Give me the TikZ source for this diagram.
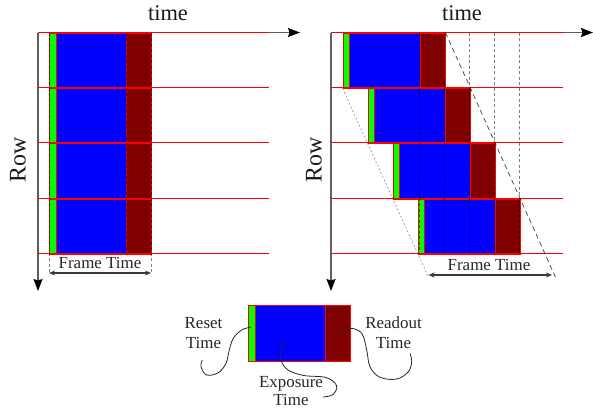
\documentclass[tikz,border=0pt]{standalone}
\usepackage{fontspec}
\setmainfont{Liberation Serif}
\usetikzlibrary{arrows.meta}

\definecolor{resetgreen}{RGB}{0,255,0}
\definecolor{exposureblue}{RGB}{0,0,255}
\definecolor{readoutred}{RGB}{128,0,0}
\definecolor{rowred}{RGB}{255,0,0}
\definecolor{axisgray}{RGB}{95,95,95}

\tikzset{
  partbase/.style={draw=rowred, line width=0.9bp, inner sep=0pt, anchor=north west},
  resetpart/.style={partbase, fill=resetgreen, minimum width=6.5bp},
  exposurepart/.style={partbase, fill=exposureblue, minimum width=70.5bp},
  readoutpart/.style={partbase, fill=readoutred, minimum width=25bp},
  rowline/.style={draw=rowred, line width=1.1bp},
  axisline/.style={draw=axisgray, line width=1.5bp, -{Stealth[length=12bp,width=9bp,inset=1.5bp,black]}},
  guide/.style={draw=black, opacity=0.5, line width=0.7bp, dash pattern=on 3bp off 2.5bp},
  fineguide/.style={draw=black, opacity=0.45, line width=0.6bp, dash pattern=on 2bp off 2bp},
  longguide/.style={draw=black, opacity=0.75, line width=0.7bp, dash pattern=on 5bp off 3.5bp},
  spanarrow/.style={draw=axisgray!60!black, line width=1.1bp, {Stealth[length=6bp,width=5bp]}-{Stealth[length=6bp,width=5bp]}},
  curl/.style={draw=black!85, line width=0.8bp},
  lbl/.style={font=\fontsize{17}{19}\selectfont, align=center, inner sep=0pt, text=black!85},
  axislbl/.style={font=\fontsize{22.5}{24}\selectfont, inner sep=0pt, text=black!90},
  rowlbl/.style={axislbl, rotate=90, font=\fontsize{24}{26}\selectfont},
}

\begin{document}
\begin{tikzpicture}[x=1bp, y=-1bp]
\useasboundingbox (0,0) rectangle (593,412);

% ---------------- global shutter panel ----------------
\coordinate (Lorigin) at (38,32.5);
\coordinate (Ltime) at (300,32.5);
\coordinate (Lrow) at (38,291);
\draw[axisline] (Lorigin) -- (Ltime);
\draw[axisline] (Lorigin) -- (Lrow);

\foreach \t/\h [count=\k] in {32.5/55,87.5/55,142.5/56,198.5/55} {
  \node[resetpart, minimum height=\h bp]    (Lr\k) at (49,\t) {};
  \node[exposurepart, minimum height=\h bp] (Le\k) at (55.5,\t) {};
  \node[readoutpart, minimum height=\h bp]  (Lo\k) at (126,\t) {};
}
\foreach \t in {32.5,87.5,142.5,198.5,253.5}
  \draw[rowline] (38,\t) -- (269,\t);

\coordinate (Lfs) at (49,273);
\coordinate (Lfe) at (151,273);
\draw[guide] (49,32.5) -- (Lfs);
\draw[guide] (126,32.5) -- (126,253.5);
\draw[guide] (151,32.5) -- (Lfe);
\draw[spanarrow] (Lfs) -- (Lfe);
\node[lbl] (Lframe) at (100,263) {Frame Time};

\node[axislbl] (Ltimelbl) at (168,13) {time};
\node[rowlbl] (Lrowlbl) at (18,160) {Row};

% ---------------- rolling shutter panel ----------------
\coordinate (Rorigin) at (331,32.5);
\coordinate (Rtime) at (593,32.5);
\coordinate (Rrow) at (331,291);
\draw[axisline] (Rorigin) -- (Rtime);
\draw[axisline] (Rorigin) -- (Rrow);

\foreach \t/\h [count=\k from 0] in {32.5/55,87.5/55,142.5/56,198.5/55} {
  \node[resetpart, minimum height=\h bp]    (Rr\k) at (342.5+25*\k,\t) {};
  \node[exposurepart, minimum height=\h bp] (Re\k) at (349+25*\k,\t) {};
  \node[readoutpart, minimum height=\h bp]  (Ro\k) at (419.5+25*\k,\t) {};
}
\foreach \t in {32.5,87.5,142.5,198.5,253.5}
  \draw[rowline] (331,\t) -- (563,\t);

\foreach \x in {419.5,444.5,469.5,494.5,519.5}
  \draw[guide] (\x,32.5) -- (\x,253.5);

\coordinate (Rfs) at (428.4,277);
\coordinate (Rfe) at (555.4,277);
\draw[fineguide] (Rr0.south west) -- (Rfs);
\draw[longguide] (Ro0.north east) -- (Rfe);
\draw[spanarrow] (428.5,275) -- (552,275);
\node[lbl] (Rframe) at (489,265) {Frame Time};

\node[axislbl] (Rtimelbl) at (462,13) {time};
\node[rowlbl] (Rrowlbl) at (314,160) {Row};

% ---------------- legend ----------------
\node[resetpart, minimum height=55.5bp]    (Greset) at (248,305) {};
\node[exposurepart, minimum height=55.5bp] (Gexpo)  at (254.5,305) {};
\node[readoutpart, minimum height=55.5bp]  (Gread)  at (325,305) {};

\node[lbl] (Treset) at (203.5,333) {Reset\\[1bp]Time};
\node[lbl] (Texpo)  at (291,391) {Exposure\\Time};
\node[lbl] (Tread)  at (393.5,333) {Readout\\[1bp]Time};

\coordinate (resetpin) at (251,327);
\coordinate (expopin) at (287,340);
\coordinate (readpin) at (338.5,333.5);
\coordinate (resettail) at (202.3,360);
\coordinate (expotail) at (323,397);
\coordinate (readtail) at (410,353.5);

\draw[curl] plot[smooth, tension=0.6] coordinates {
  (resetpin) (241.7,330) (233.3,338.3) (229.3,350) (226,363.3) (218.3,372.7) (206.7,375) (201,366.7) (resettail)};
\draw[curl] plot[smooth, tension=0.6] coordinates {
  (expopin) (281.5,348.5) (281,360) (288,370) (304,375.5) (326,377.5) (336.5,385.5) (333,394.5) (expotail)};
\draw[curl] plot[smooth, tension=0.6] coordinates {
  (readpin) (350,328.3) (361.7,333.3) (366.7,350) (370,366.7) (380,377.3) (396.7,379) (408.3,371.7) (411.7,361.7) (readtail)};
\end{tikzpicture}
\end{document}
